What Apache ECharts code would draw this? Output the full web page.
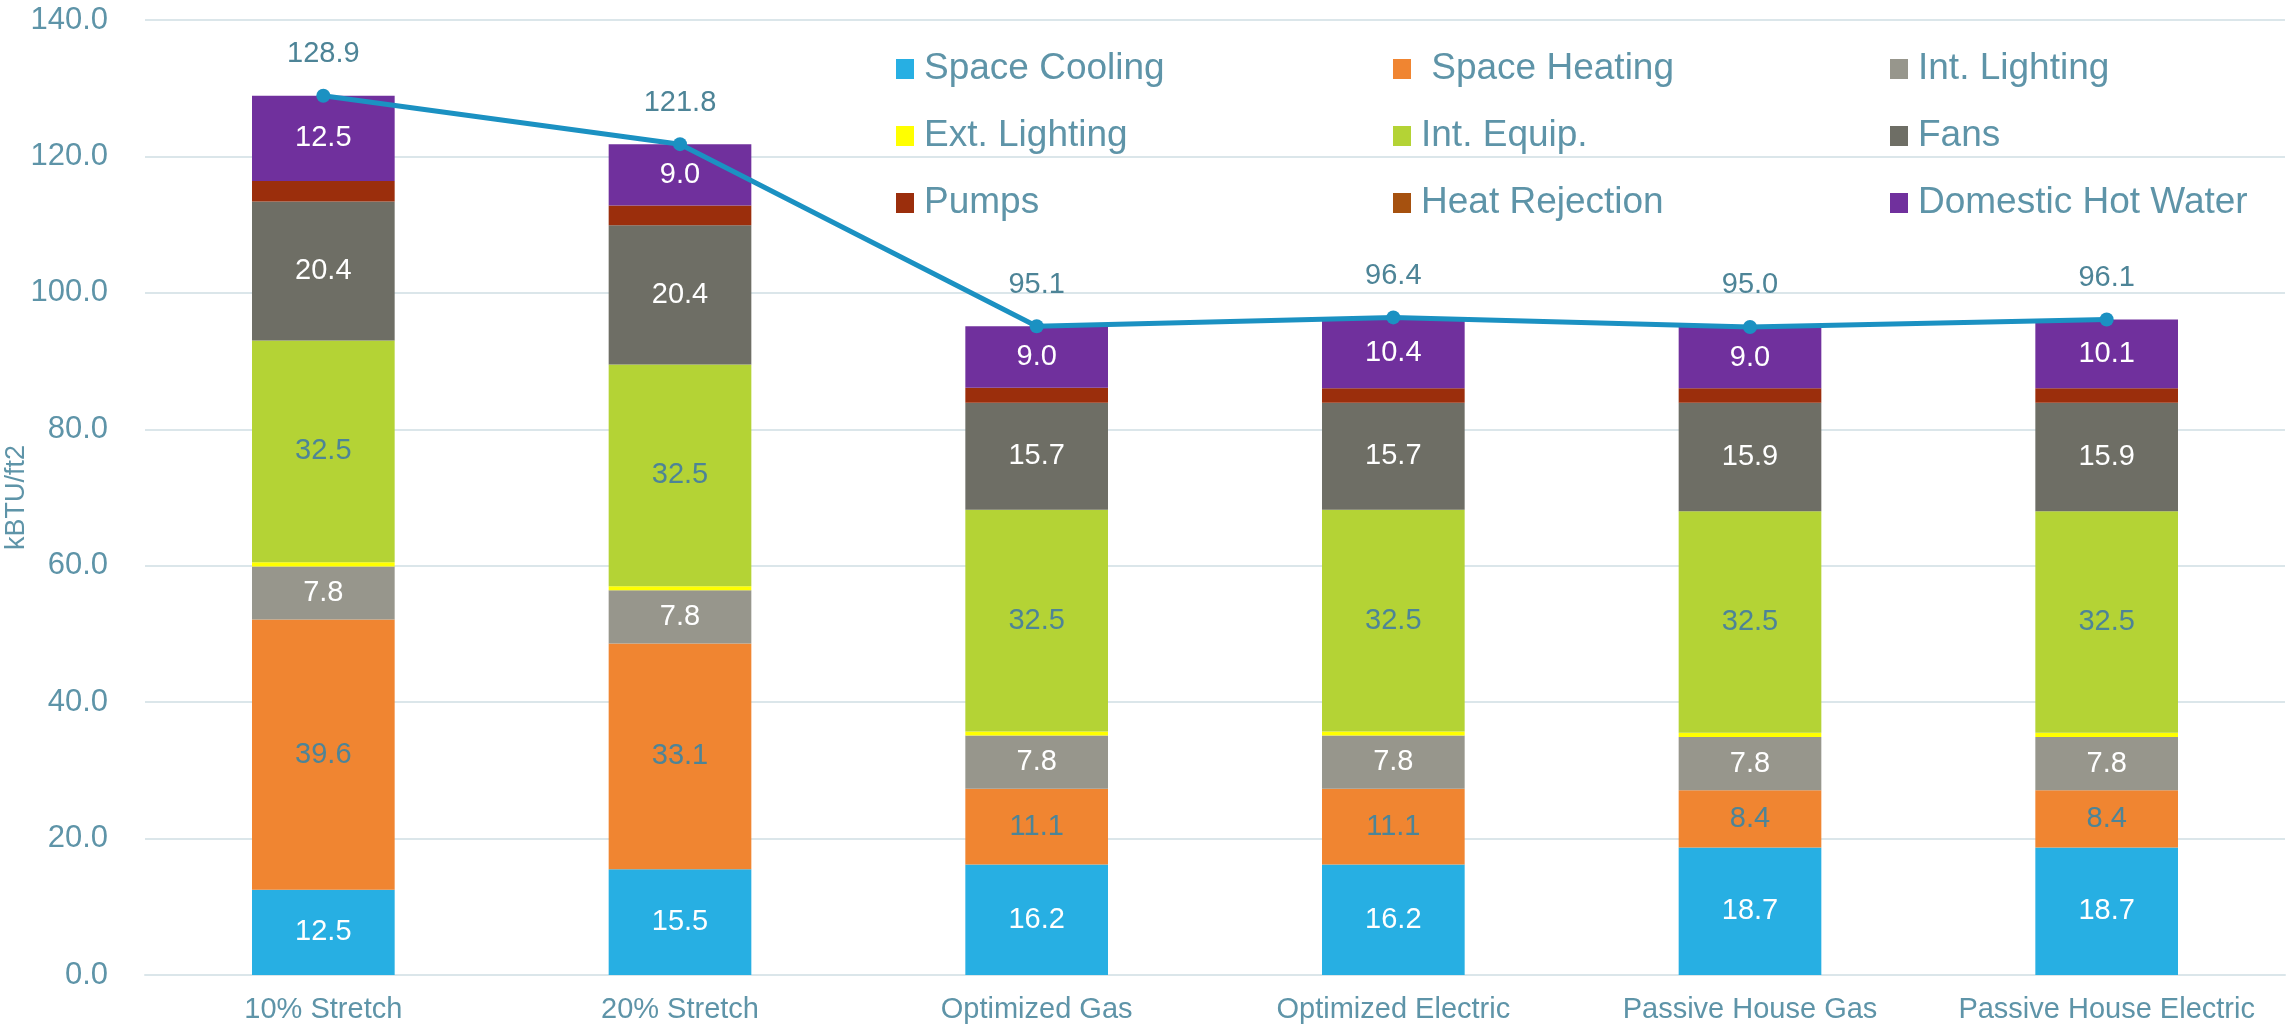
<!DOCTYPE html>
<html>
<head>
<meta charset="utf-8">
<script src="https://cdn.jsdelivr.net/npm/echarts@6/dist/echarts.min.js"></script>
<style>
  html, body { margin: 0; padding: 0; background: #fff; }
  #chart { width: 2290px; height: 1030px; }
</style>
</head>
<body>
<div id="chart"></div>
<script>
let categories = ["10% Stretch", "20% Stretch", "Optimized Gas", "Optimized Electric", "Passive House Gas", "Passive House Electric"];

let spaceCooling = [12.5, 15.5, 16.2, 16.2, 18.7, 18.7];
let spaceHeating = [39.6, 33.1, 11.1, 11.1, 8.4, 8.4];
let intLighting = [7.8, 7.8, 7.8, 7.8, 7.8, 7.8];
let extLighting = [0.6, 0.6, 0.6, 0.6, 0.6, 0.6];
let intEquip = [32.5, 32.5, 32.5, 32.5, 32.5, 32.5];
let fans = [20.4, 20.4, 15.7, 15.7, 15.9, 15.9];
let pumps = [3.0, 2.9, 2.2, 2.1, 2.1, 2.1];
let heatRejection = [0, 0, 0, 0, 0, 0];
let hotWater = [12.5, 9.0, 9.0, 10.4, 9.0, 10.1];
let totals = [128.9, 121.8, 95.1, 96.4, 95.0, 96.1];

let yTicks = [0, 20, 40, 60, 80, 100, 120, 140];

let axisColor = "#5e94a8";
let labelColor = "#4d8497";
let font = "Liberation Sans, Arial, sans-serif";

let myChart = echarts.init(document.getElementById("chart"));

// one stacked bar series per end use
function barSeries(name, data, color, textColor) {
  return {
    name: name,
    type: "bar",
    stack: "eui",
    barWidth: "40%",
    data: data,
    itemStyle: { color: color },
    label: {
      show: textColor != null,
      position: "inside",
      color: textColor,
      fontSize: 29,
      fontFamily: font,
      formatter: (p) => p.value.toFixed(1),
    },
  };
}

// legend split in three columns, like the original layout
function legendColumn(left, names) {
  return {
    orient: "vertical",
    left: left,
    top: 47,
    padding: 0,
    itemWidth: 18,
    itemHeight: 20,
    itemGap: 23,
    icon: "rect",
    data: names,
    textStyle: {
      color: axisColor,
      fontSize: 37,
      lineHeight: 44,
      fontFamily: font,
      padding: [0, 0, 0, 5],
    },
  };
}

let option = {
  animation: false,
  backgroundColor: "#fff",
  legend: [
    legendColumn(896, ["Space Cooling", "Ext. Lighting", "Pumps"]),
    legendColumn(1393, [" Space Heating", "Int. Equip.", "Heat Rejection"]),
    legendColumn(1890, ["Int. Lighting", "Fans", "Domestic Hot Water"]),
  ],
  grid: {
    left: 145,
    right: 5,
    top: 20,
    bottom: 55,
    outerBoundsMode: "none",
  },
  xAxis: {
    type: "category",
    data: categories,
    axisLine: { lineStyle: { color: "#dbe6ea", width: 2 } },
    axisTick: { show: false },
    axisLabel: {
      interval: 0,
      color: axisColor,
      fontSize: 29,
      margin: 20,
      fontFamily: font,
    },
  },
  yAxis: {
    type: "value",
    min: yTicks[0],
    max: yTicks[yTicks.length - 1],
    interval: 20,
    name: "kBTU/ft2",
    nameLocation: "middle",
    nameGap: 115,
    nameMoveOverlap: false,
    nameTextStyle: {
      color: axisColor,
      fontSize: 27,
      fontFamily: font,
    },
    axisLine: { show: false },
    axisTick: { show: false },
    splitLine: { lineStyle: { color: "#dbe6ea", width: 2 } },
    axisLabel: {
      color: axisColor,
      fontSize: 31,
      margin: 37,
      fontFamily: font,
      formatter: (v) => v.toFixed(1),
    },
  },
  series: [
    barSeries("Space Cooling", spaceCooling, "#27afe3", "#ffffff"),
    barSeries(" Space Heating", spaceHeating, "#f08531", labelColor),
    barSeries("Int. Lighting", intLighting, "#97968c", "#ffffff"),
    barSeries("Ext. Lighting", extLighting, "#ffff00", null),
    barSeries("Int. Equip.", intEquip, "#b4d335", labelColor),
    barSeries("Fans", fans, "#6e6e65", "#ffffff"),
    barSeries("Pumps", pumps, "#9b2e0c", null),
    barSeries("Heat Rejection", heatRejection, "#a6510f", null),
    barSeries("Domestic Hot Water", hotWater, "#70309d", "#ffffff"),
    {
      name: "Total",
      type: "line",
      data: totals,
      symbol: "circle",
      symbolSize: 14,
      lineStyle: { color: "#1b91c2", width: 5 },
      itemStyle: { color: "#1b91c2" },
      z: 5,
      label: {
        show: true,
        position: "top",
        distance: 20,
        color: labelColor,
        fontSize: 29,
        fontFamily: font,
        formatter: (p) => p.value.toFixed(1),
      },
    },
  ],
};

myChart.setOption(option);
</script>
</body>
</html>
